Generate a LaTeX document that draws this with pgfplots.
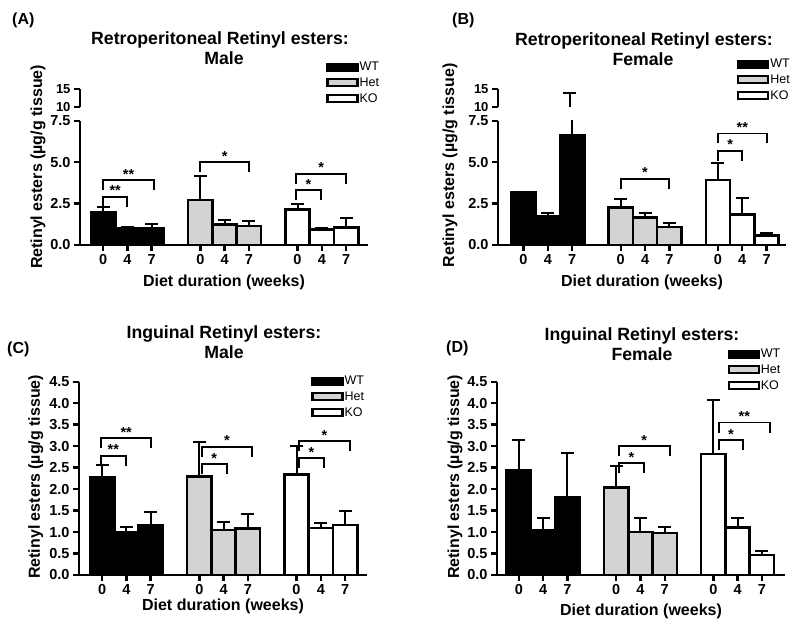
\documentclass[border=0pt]{standalone}
\usepackage{fontspec}
\setmainfont{Liberation Sans}
\usepackage{pgfplots}
\pgfplotsset{compat=1.18}
\definecolor{hetgray}{RGB}{211,211,211}

% significance bracket: x1, x2, y, stars
\newcommand{\brk}[4]{\draw[line width=1.9pt] ([yshift=-10pt]axis cs:#1,#3) -- (axis cs:#1,#3)
  -- node[above=0pt, inner sep=0pt, font=\fontsize{14.5}{14.5}\selectfont\bfseries]{#4} (axis cs:#2,#3)
  -- ([yshift=-10pt]axis cs:#2,#3);}

\pgfplotsset{
  boxlegend/.style={legend image code/.code={\draw[##1, line width=2.2pt] (0pt,-3.5pt) rectangle (30pt,3.5pt);}},
  wt/.style={fill=black, draw=black, line width=2.6pt, bar shift=0pt, boxlegend},
  het/.style={fill=hetgray, draw=black, line width=2.6pt, bar shift=0pt, boxlegend},
  ko/.style={fill=white, draw=black, line width=2.6pt, bar shift=0pt, boxlegend},
  common/.style={
    scale only axis, width=288pt,
    xmin=-0.95, xmax=10.9,
    axis line style={line width=2.8pt},
    every tick/.style={black, line width=2.4pt},
    tick align=outside, major tick length=6pt,
    tick label style={font=\fontsize{14.5}{14.5}\selectfont\bfseries},
    /pgf/number format/assume math mode=true,
  },
  panel/.style={
    common,
    axis x line*=bottom, axis y line*=left,
    xtick={0,1,2,4,5,6,8,9,10},
    xticklabels={0,4,7,0,4,7,0,4,7},
    yticklabel style={/pgf/number format/fixed, /pgf/number format/fixed zerofill, /pgf/number format/precision=1},
    ybar, bar width=1,
    ymin=0,
    clip mode=individual,
    xlabel={Diet duration (weeks)},
    ylabel={Retinyl esters (µg/g tissue)},
    label style={font=\fontsize{16}{16}\selectfont\bfseries},
    legend style={draw=none, fill=none, inner sep=0pt, anchor=north west,
      font=\fontsize{12.5}{12.5}\selectfont, row sep=3.5pt, nodes={inner sep=1pt}},
    legend cell align=left,
    error bars/y dir=plus, error bars/y explicit,
    error bars/error bar style={line width=2pt, black},
    error bars/error mark options={rotate=90, line width=2pt, black, mark size=6.5pt},
  },
  upper/.style={
    common, height=17.7pt,
    ymin=10, ymax=15,
    axis x line=none, axis y line*=left,
    ytick={10,15}, yticklabels={10,15},
    yticklabel style={font=\fontsize{13}{13}\selectfont\bfseries},
  },
}

\begin{document}
\begin{tikzpicture}
\path[use as bounding box] (0pt,0pt) rectangle (800pt,-626pt);

% ---------- panel labels and titles ----------
\begin{scope}[every node/.style={font=\fontsize{16}{16}\selectfont\bfseries, anchor=base west, inner sep=0pt}]
  \node at (12pt,-25pt) {(A)};
  \node at (452pt,-25pt) {(B)};
  \node at (7pt,-353pt) {(C)};
  \node at (446pt,-352pt) {(D)};
\end{scope}
\begin{scope}[every node/.style={font=\fontsize{17.7}{17.7}\selectfont\bfseries, anchor=base, inner sep=0pt}]
  \node at (220pt,-45pt) {Retroperitoneal Retinyl esters:};
  \node at (224pt,-65pt) {Male};
  \node at (644pt,-46pt) {Retroperitoneal Retinyl esters:};
  \node at (643pt,-66pt) {Female};
  \node at (224pt,-338pt) {Inguinal Retinyl esters:};
  \node at (224pt,-358pt) {Male};
  \node at (642pt,-340pt) {Inguinal Retinyl esters:};
  \node at (642pt,-360pt) {Female};
\end{scope}

% ---------- (A) ----------
\begin{axis}[upper, at={(80pt,-106.7pt)}, anchor=south west]
\end{axis}
\begin{axis}[panel, at={(80pt,-245pt)}, anchor=south west, height=124.3pt,
  ymax=7.5, ytick={0,2.5,5,7.5},
  xlabel style={at={(axis description cs:0.5,-0.298)}, anchor=center},
  ylabel style={at={(axis description cs:-0.146,0.628)}, anchor=center},
  legend style={at={(axis description cs:0.855,1.48)}}]
\addplot[wt] coordinates {(0,1.95) +- (0,0.33) (1,1.03) +- (0,0.05) (2,1.02) +- (0,0.27)};
\addplot[het] coordinates {(4,2.72) +- (0,1.45) (5,1.24) +- (0,0.25) (6,1.15) +- (0,0.27)};
\addplot[ko] coordinates {(8,2.13) +- (0,0.33) (9,0.95) +- (0,0.07) (10,1.07) +- (0,0.53)};
\legend{WT,Het,KO}
\brk{0}{2.1}{3.9}{**}
\brk{0}{1}{2.9}{**}
\brk{4}{6}{5.0}{*}
\brk{7.95}{10}{4.3}{*}
\brk{7.95}{8.95}{3.3}{*}
\end{axis}

% ---------- (B) ----------
\begin{axis}[upper, at={(498pt,-106.7pt)}, anchor=south west]
\addplot[draw=none, mark=none, forget plot, error bars/.cd, y dir=plus, y explicit,
  error bar style={draw=black, line width=2pt},
  error mark options={rotate=90, draw=black, line width=2pt, mark size=6.5pt}]
  coordinates {(2,10) +- (0,3.95)};
\end{axis}
\begin{axis}[panel, at={(498pt,-245pt)}, anchor=south west, height=124.3pt,
  xmin=-1.05, xmax=10.8,
  ymax=7.5, ytick={0,2.5,5,7.5},
  xlabel style={at={(axis description cs:0.5,-0.298)}, anchor=center},
  ylabel style={at={(axis description cs:-0.167,0.64)}, anchor=center},
  legend style={at={(axis description cs:0.83,1.505)}}]
\addplot[wt] coordinates {(0,3.15) +- (0,0) (1,1.75) +- (0,0.2) (2,6.63) +- (0,7.3)};
\addplot[het] coordinates {(4,2.25) +- (0,0.5) (5,1.67) +- (0,0.24) (6,1.08) +- (0,0.26)};
\addplot[ko] coordinates {(8,3.92) +- (0,1.0) (9,1.85) +- (0,1.0) (10,0.56) +- (0,0.16)};
\legend{WT,Het,KO}
\brk{4}{6}{4.0}{*}
\brk{8}{10}{6.73}{**}
\brk{8}{9}{5.68}{*}
\end{axis}

% ---------- (C) ----------
\begin{axis}[panel, at={(79pt,-575pt)}, anchor=south west, height=193.3pt,
  ymax=4.5, ytick={0,0.5,...,4.5},
  xlabel style={at={(axis description cs:0.5,-0.164)}, anchor=center},
  ylabel style={at={(axis description cs:-0.15,0.508)}, anchor=center},
  legend style={at={(axis description cs:0.806,1.035)}}]
\addplot[wt] coordinates {(0,2.27) +- (0,0.29) (1,1.0) +- (0,0.12) (2,1.16) +- (0,0.31)};
\addplot[het] coordinates {(4,2.29) +- (0,0.81) (5,1.05) +- (0,0.18) (6,1.08) +- (0,0.35)};
\addplot[ko] coordinates {(8,2.34) +- (0,0.66) (9,1.09) +- (0,0.11) (10,1.16) +- (0,0.33)};
\legend{WT,Het,KO}
\brk{-0.05}{2.03}{3.18}{**}
\brk{-0.05}{0.98}{2.78}{**}
\brk{4.1}{6.17}{2.99}{*}
\brk{4.1}{5.13}{2.58}{*}
\brk{8.1}{10.2}{3.12}{*}
\brk{8.1}{9.13}{2.72}{*}
\end{axis}

% ---------- (D) ----------
\begin{axis}[panel, at={(497pt,-575pt)}, anchor=south west, height=193.3pt,
  xmin=-0.9, xmax=10.95,
  ymax=4.5, ytick={0,0.5,...,4.5},
  xlabel style={at={(axis description cs:0.5,-0.19)}, anchor=center},
  ylabel style={at={(axis description cs:-0.146,0.508)}, anchor=center},
  legend style={at={(axis description cs:0.8,1.175)}}]
\addplot[wt] coordinates {(0,2.43) +- (0,0.71) (1,1.05) +- (0,0.27) (2,1.80) +- (0,1.05)};
\addplot[het] coordinates {(4,2.04) +- (0,0.5) (5,1.0) +- (0,0.33) (6,0.98) +- (0,0.14)};
\addplot[ko] coordinates {(8,2.82) +- (0,1.25) (9,1.10) +- (0,0.22) (10,0.47) +- (0,0.09)};
\legend{WT,Het,KO}
\brk{4.12}{6.2}{3.0}{*}
\brk{4.12}{5.14}{2.6}{*}
\brk{8.23}{10.32}{3.55}{**}
\brk{8.23}{9.22}{3.14}{*}
\end{axis}
\end{tikzpicture}
\end{document}
